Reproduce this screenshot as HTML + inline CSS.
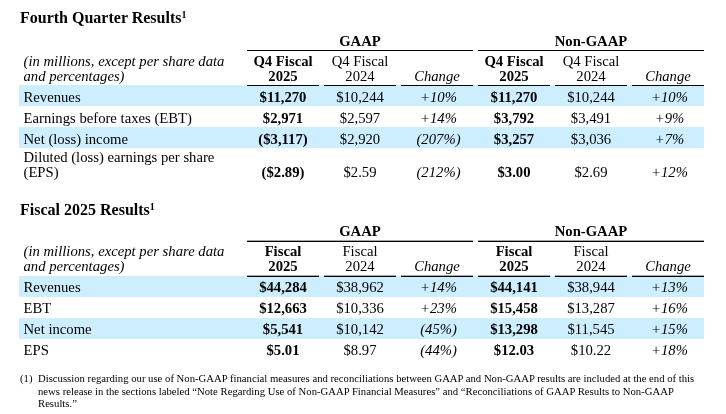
<!DOCTYPE html>
<html lang="en"><head><meta charset="utf-8"><title>Results</title>
<style>
html,body{margin:0;padding:0;background:#fff;}
body{width:726px;height:414px;position:relative;overflow:hidden;font-family:"Liberation Serif","Times New Roman",serif;color:#000;}
.t{position:absolute;white-space:nowrap;margin:0;}
.r{position:absolute;}
.b{font-weight:bold;}
.i{font-style:italic;}
sup{font-size:62%;vertical-align:baseline;position:relative;top:-0.45em;line-height:0;}
</style></head><body>
<section>
<div class="t b" style="left:20px;width:500px;top:8.60px;font-size:16px;line-height:18px;text-align:left;">Fourth Quarter Results<sup>1</sup></div>
<div class="t b" style="left:247px;width:226px;top:33.04px;font-size:14.7px;line-height:16px;text-align:center;">GAAP</div>
<div class="t b" style="left:478px;width:226px;top:33.04px;font-size:14.7px;line-height:16px;text-align:center;">Non-GAAP</div>
<div class="r" style="left:247px;top:50px;width:226px;height:1px;background:#000"></div>
<div class="r" style="left:478px;top:50px;width:226px;height:1px;background:#000"></div>
<div class="t i" style="left:23.5px;width:225px;top:53.04px;font-size:14.7px;line-height:16px;text-align:left;">(in millions, except per share data</div>
<div class="t i" style="left:23.5px;width:225px;top:68.04px;font-size:14.7px;line-height:16px;text-align:left;">and percentages)</div>
<div class="t b" style="left:247px;width:72px;top:53.04px;font-size:14.7px;line-height:16px;text-align:center;">Q4 Fiscal</div>
<div class="t b" style="left:247px;width:72px;top:68.04px;font-size:14.7px;line-height:16px;text-align:center;">2025</div>
<div class="t " style="left:324px;width:72px;top:53.04px;font-size:14.7px;line-height:16px;text-align:center;">Q4 Fiscal</div>
<div class="t " style="left:324px;width:72px;top:68.04px;font-size:14.7px;line-height:16px;text-align:center;">2024</div>
<div class="t i" style="left:401px;width:72px;top:68.04px;font-size:14.7px;line-height:16px;text-align:center;">Change</div>
<div class="t b" style="left:478px;width:72px;top:53.04px;font-size:14.7px;line-height:16px;text-align:center;">Q4 Fiscal</div>
<div class="t b" style="left:478px;width:72px;top:68.04px;font-size:14.7px;line-height:16px;text-align:center;">2025</div>
<div class="t " style="left:555px;width:72px;top:53.04px;font-size:14.7px;line-height:16px;text-align:center;">Q4 Fiscal</div>
<div class="t " style="left:555px;width:72px;top:68.04px;font-size:14.7px;line-height:16px;text-align:center;">2024</div>
<div class="t i" style="left:632px;width:72px;top:68.04px;font-size:14.7px;line-height:16px;text-align:center;">Change</div>
<div class="r" style="left:19px;top:85px;width:685px;height:21px;background:#cceeff"></div>
<div class="t " style="left:23.5px;width:225px;top:89.04px;font-size:14.7px;line-height:16px;text-align:left;">Revenues</div>
<div class="t b" style="left:247px;width:72px;top:89.04px;font-size:14.7px;line-height:16px;text-align:center;">$11,270</div>
<div class="t " style="left:324px;width:72px;top:89.04px;font-size:14.7px;line-height:16px;text-align:center;">$10,244</div>
<div class="t i" style="left:402.5px;width:72px;top:89.04px;font-size:14.7px;line-height:16px;text-align:center;">+10%</div>
<div class="t b" style="left:478px;width:72px;top:89.04px;font-size:14.7px;line-height:16px;text-align:center;">$11,270</div>
<div class="t " style="left:555px;width:72px;top:89.04px;font-size:14.7px;line-height:16px;text-align:center;">$10,244</div>
<div class="t i" style="left:633.5px;width:72px;top:89.04px;font-size:14.7px;line-height:16px;text-align:center;">+10%</div>
<div class="t " style="left:23.5px;width:225px;top:110.04px;font-size:14.7px;line-height:16px;text-align:left;">Earnings before taxes (EBT)</div>
<div class="t b" style="left:247px;width:72px;top:110.04px;font-size:14.7px;line-height:16px;text-align:center;">$2,971</div>
<div class="t " style="left:324px;width:72px;top:110.04px;font-size:14.7px;line-height:16px;text-align:center;">$2,597</div>
<div class="t i" style="left:402.5px;width:72px;top:110.04px;font-size:14.7px;line-height:16px;text-align:center;">+14%</div>
<div class="t b" style="left:478px;width:72px;top:110.04px;font-size:14.7px;line-height:16px;text-align:center;">$3,792</div>
<div class="t " style="left:555px;width:72px;top:110.04px;font-size:14.7px;line-height:16px;text-align:center;">$3,491</div>
<div class="t i" style="left:633.5px;width:72px;top:110.04px;font-size:14.7px;line-height:16px;text-align:center;">+9%</div>
<div class="r" style="left:19px;top:127px;width:685px;height:21px;background:#cceeff"></div>
<div class="t " style="left:23.5px;width:225px;top:131.04px;font-size:14.7px;line-height:16px;text-align:left;">Net (loss) income</div>
<div class="t b" style="left:247px;width:72px;top:131.04px;font-size:14.7px;line-height:16px;text-align:center;">($3,117)</div>
<div class="t " style="left:324px;width:72px;top:131.04px;font-size:14.7px;line-height:16px;text-align:center;">$2,920</div>
<div class="t i" style="left:402.5px;width:72px;top:131.04px;font-size:14.7px;line-height:16px;text-align:center;">(207%)</div>
<div class="t b" style="left:478px;width:72px;top:131.04px;font-size:14.7px;line-height:16px;text-align:center;">$3,257</div>
<div class="t " style="left:555px;width:72px;top:131.04px;font-size:14.7px;line-height:16px;text-align:center;">$3,036</div>
<div class="t i" style="left:633.5px;width:72px;top:131.04px;font-size:14.7px;line-height:16px;text-align:center;">+7%</div>
<div class="t " style="left:23.5px;width:225px;top:149.04px;font-size:14.7px;line-height:16px;text-align:left;">Diluted (loss) earnings per share</div>
<div class="t " style="left:23.5px;width:225px;top:164.04px;font-size:14.7px;line-height:16px;text-align:left;">(EPS)</div>
<div class="t b" style="left:247px;width:72px;top:164.04px;font-size:14.7px;line-height:16px;text-align:center;">($2.89)</div>
<div class="t " style="left:324px;width:72px;top:164.04px;font-size:14.7px;line-height:16px;text-align:center;">$2.59</div>
<div class="t i" style="left:402.5px;width:72px;top:164.04px;font-size:14.7px;line-height:16px;text-align:center;">(212%)</div>
<div class="t b" style="left:478px;width:72px;top:164.04px;font-size:14.7px;line-height:16px;text-align:center;">$3.00</div>
<div class="t " style="left:555px;width:72px;top:164.04px;font-size:14.7px;line-height:16px;text-align:center;">$2.69</div>
<div class="t i" style="left:633.5px;width:72px;top:164.04px;font-size:14.7px;line-height:16px;text-align:center;">+12%</div>
<div class="r" style="left:247px;top:85px;width:72px;height:1px;background:#000"></div>
<div class="r" style="left:324px;top:85px;width:72px;height:1px;background:#000"></div>
<div class="r" style="left:401px;top:85px;width:72px;height:1px;background:#000"></div>
<div class="r" style="left:478px;top:85px;width:72px;height:1px;background:#000"></div>
<div class="r" style="left:555px;top:85px;width:72px;height:1px;background:#000"></div>
<div class="r" style="left:632px;top:85px;width:72px;height:1px;background:#000"></div>
</section>
<section>
<div class="t b" style="left:20px;width:500px;top:200.60px;font-size:16px;line-height:18px;text-align:left;">Fiscal 2025 Results<sup>1</sup></div>
<div class="t b" style="left:247px;width:226px;top:223.04px;font-size:14.7px;line-height:16px;text-align:center;">GAAP</div>
<div class="t b" style="left:478px;width:226px;top:223.04px;font-size:14.7px;line-height:16px;text-align:center;">Non-GAAP</div>
<div class="r" style="left:247px;top:241px;width:226px;height:1px;background:#000"></div>
<div class="r" style="left:478px;top:241px;width:226px;height:1px;background:#000"></div>
<div class="r" style="left:247px;top:240px;width:226px;height:1px;background:rgba(0,0,0,.35)"></div>
<div class="r" style="left:478px;top:240px;width:226px;height:1px;background:rgba(0,0,0,.35)"></div>
<div class="t i" style="left:23.5px;width:225px;top:243.04px;font-size:14.7px;line-height:16px;text-align:left;">(in millions, except per share data</div>
<div class="t i" style="left:23.5px;width:225px;top:258.04px;font-size:14.7px;line-height:16px;text-align:left;">and percentages)</div>
<div class="t b" style="left:247px;width:72px;top:243.04px;font-size:14.7px;line-height:16px;text-align:center;">Fiscal</div>
<div class="t b" style="left:247px;width:72px;top:258.04px;font-size:14.7px;line-height:16px;text-align:center;">2025</div>
<div class="t " style="left:324px;width:72px;top:243.04px;font-size:14.7px;line-height:16px;text-align:center;">Fiscal</div>
<div class="t " style="left:324px;width:72px;top:258.04px;font-size:14.7px;line-height:16px;text-align:center;">2024</div>
<div class="t i" style="left:401px;width:72px;top:258.04px;font-size:14.7px;line-height:16px;text-align:center;">Change</div>
<div class="t b" style="left:478px;width:72px;top:243.04px;font-size:14.7px;line-height:16px;text-align:center;">Fiscal</div>
<div class="t b" style="left:478px;width:72px;top:258.04px;font-size:14.7px;line-height:16px;text-align:center;">2025</div>
<div class="t " style="left:555px;width:72px;top:243.04px;font-size:14.7px;line-height:16px;text-align:center;">Fiscal</div>
<div class="t " style="left:555px;width:72px;top:258.04px;font-size:14.7px;line-height:16px;text-align:center;">2024</div>
<div class="t i" style="left:632px;width:72px;top:258.04px;font-size:14.7px;line-height:16px;text-align:center;">Change</div>
<div class="r" style="left:19px;top:276px;width:685px;height:21px;background:#cceeff"></div>
<div class="t " style="left:23.5px;width:225px;top:279.04px;font-size:14.7px;line-height:16px;text-align:left;">Revenues</div>
<div class="t b" style="left:247px;width:72px;top:279.04px;font-size:14.7px;line-height:16px;text-align:center;">$44,284</div>
<div class="t " style="left:324px;width:72px;top:279.04px;font-size:14.7px;line-height:16px;text-align:center;">$38,962</div>
<div class="t i" style="left:402.5px;width:72px;top:279.04px;font-size:14.7px;line-height:16px;text-align:center;">+14%</div>
<div class="t b" style="left:478px;width:72px;top:279.04px;font-size:14.7px;line-height:16px;text-align:center;">$44,141</div>
<div class="t " style="left:555px;width:72px;top:279.04px;font-size:14.7px;line-height:16px;text-align:center;">$38,944</div>
<div class="t i" style="left:633.5px;width:72px;top:279.04px;font-size:14.7px;line-height:16px;text-align:center;">+13%</div>
<div class="t " style="left:23.5px;width:225px;top:300.04px;font-size:14.7px;line-height:16px;text-align:left;">EBT</div>
<div class="t b" style="left:247px;width:72px;top:300.04px;font-size:14.7px;line-height:16px;text-align:center;">$12,663</div>
<div class="t " style="left:324px;width:72px;top:300.04px;font-size:14.7px;line-height:16px;text-align:center;">$10,336</div>
<div class="t i" style="left:402.5px;width:72px;top:300.04px;font-size:14.7px;line-height:16px;text-align:center;">+23%</div>
<div class="t b" style="left:478px;width:72px;top:300.04px;font-size:14.7px;line-height:16px;text-align:center;">$15,458</div>
<div class="t " style="left:555px;width:72px;top:300.04px;font-size:14.7px;line-height:16px;text-align:center;">$13,287</div>
<div class="t i" style="left:633.5px;width:72px;top:300.04px;font-size:14.7px;line-height:16px;text-align:center;">+16%</div>
<div class="r" style="left:19px;top:318px;width:685px;height:21px;background:#cceeff"></div>
<div class="t " style="left:23.5px;width:225px;top:321.04px;font-size:14.7px;line-height:16px;text-align:left;">Net income</div>
<div class="t b" style="left:247px;width:72px;top:321.04px;font-size:14.7px;line-height:16px;text-align:center;">$5,541</div>
<div class="t " style="left:324px;width:72px;top:321.04px;font-size:14.7px;line-height:16px;text-align:center;">$10,142</div>
<div class="t i" style="left:402.5px;width:72px;top:321.04px;font-size:14.7px;line-height:16px;text-align:center;">(45%)</div>
<div class="t b" style="left:478px;width:72px;top:321.04px;font-size:14.7px;line-height:16px;text-align:center;">$13,298</div>
<div class="t " style="left:555px;width:72px;top:321.04px;font-size:14.7px;line-height:16px;text-align:center;">$11,545</div>
<div class="t i" style="left:633.5px;width:72px;top:321.04px;font-size:14.7px;line-height:16px;text-align:center;">+15%</div>
<div class="t " style="left:23.5px;width:225px;top:342.04px;font-size:14.7px;line-height:16px;text-align:left;">EPS</div>
<div class="t b" style="left:247px;width:72px;top:342.04px;font-size:14.7px;line-height:16px;text-align:center;">$5.01</div>
<div class="t " style="left:324px;width:72px;top:342.04px;font-size:14.7px;line-height:16px;text-align:center;">$8.97</div>
<div class="t i" style="left:402.5px;width:72px;top:342.04px;font-size:14.7px;line-height:16px;text-align:center;">(44%)</div>
<div class="t b" style="left:478px;width:72px;top:342.04px;font-size:14.7px;line-height:16px;text-align:center;">$12.03</div>
<div class="t " style="left:555px;width:72px;top:342.04px;font-size:14.7px;line-height:16px;text-align:center;">$10.22</div>
<div class="t i" style="left:633.5px;width:72px;top:342.04px;font-size:14.7px;line-height:16px;text-align:center;">+18%</div>
<div class="r" style="left:247px;top:276px;width:72px;height:1px;background:#000"></div>
<div class="r" style="left:247px;top:275px;width:72px;height:1px;background:rgba(0,0,0,.35)"></div>
<div class="r" style="left:324px;top:276px;width:72px;height:1px;background:#000"></div>
<div class="r" style="left:324px;top:275px;width:72px;height:1px;background:rgba(0,0,0,.35)"></div>
<div class="r" style="left:401px;top:276px;width:72px;height:1px;background:#000"></div>
<div class="r" style="left:401px;top:275px;width:72px;height:1px;background:rgba(0,0,0,.35)"></div>
<div class="r" style="left:478px;top:276px;width:72px;height:1px;background:#000"></div>
<div class="r" style="left:478px;top:275px;width:72px;height:1px;background:rgba(0,0,0,.35)"></div>
<div class="r" style="left:555px;top:276px;width:72px;height:1px;background:#000"></div>
<div class="r" style="left:555px;top:275px;width:72px;height:1px;background:rgba(0,0,0,.35)"></div>
<div class="r" style="left:632px;top:276px;width:72px;height:1px;background:#000"></div>
<div class="r" style="left:632px;top:275px;width:72px;height:1px;background:rgba(0,0,0,.35)"></div>
</section>
<div class="t " style="left:20px;width:20px;top:372.14px;font-size:10.7px;line-height:12.5px;text-align:left;">(1)</div>
<div class="t fn" style="left:38px;width:680px;top:372.14px;font-size:10.7px;line-height:12.5px;text-align:left;">Discussion regarding our use of Non-GAAP financial measures and reconciliations between GAAP and Non-GAAP results are included at the end of this</div>
<div class="t fn" style="left:38px;width:680px;top:384.64px;font-size:10.7px;line-height:12.5px;text-align:left;">news release in the sections labeled “Note Regarding Use of Non-GAAP Financial Measures” and “Reconciliations of GAAP Results to Non-GAAP</div>
<div class="t fn" style="left:38px;width:680px;top:397.14px;font-size:10.7px;line-height:12.5px;text-align:left;">Results.”</div>
</body></html>
